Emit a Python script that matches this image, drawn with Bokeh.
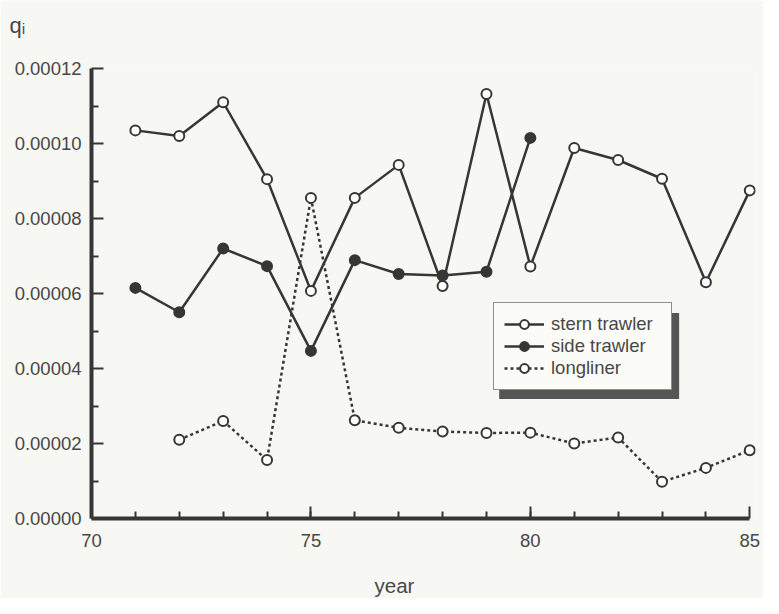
from bokeh.plotting import figure
from bokeh.models import (Range1d, FixedTicker, PrintfTickFormatter, Legend, LegendItem,
                          BoxAnnotation, Title)
from bokeh.embed import file_html
from bokeh.resources import INLINE

# ---- data ----
stern_years = [71, 72, 73, 74, 75, 76, 77, 78, 79, 80, 81, 82, 83, 84, 85]
stern_q = [1.035e-4, 1.020e-4, 1.110e-4, 0.905e-4, 0.607e-4, 0.855e-4, 0.943e-4, 0.620e-4,
           1.132e-4, 0.672e-4, 0.988e-4, 0.956e-4, 0.906e-4, 0.630e-4, 0.875e-4]

side_years = [71, 72, 73, 74, 75, 76, 77, 78, 79, 80]
side_q = [0.615e-4, 0.550e-4, 0.720e-4, 0.673e-4, 0.447e-4, 0.689e-4, 0.652e-4, 0.648e-4,
          0.658e-4, 1.015e-4]

long_years = [72, 73, 74, 75, 76, 77, 78, 79, 80, 81, 82, 83, 84, 85]
long_q = [0.210e-4, 0.260e-4, 0.156e-4, 0.855e-4, 0.262e-4, 0.242e-4, 0.232e-4, 0.228e-4,
          0.229e-4, 0.200e-4, 0.216e-4, 0.098e-4, 0.135e-4, 0.182e-4]

x_major = [70, 75, 80, 85]
x_minor = list(range(71, 85))
y_major = [0.0, 2e-5, 4e-5, 6e-5, 8e-5, 1e-4, 1.2e-4]
y_minor = [1e-5, 3e-5, 5e-5, 7e-5, 9e-5, 1.1e-4]

series_names = ["stern trawler", "side trawler", "longliner"]
y_title = "q\u1d62"
x_title = "year"

# ---- styling ----
BG = "#f7f7f3"
INK = "#363636"
TXT = "#474747"
FONT = "Liberation Sans"

p = figure(frame_width=664, frame_height=450,
           min_border_left=91, min_border_right=8, min_border_top=68, min_border_bottom=80,
           x_range=Range1d(70, 85.13), y_range=Range1d(0, 1.2e-4),
           output_backend="svg", toolbar_location=None,
           background_fill_color=BG, border_fill_color=BG)
p.outline_line_color = None
p.grid.visible = False

for ax in (p.xaxis[0], p.yaxis[0]):
    ax.axis_line_width = 4
    ax.axis_line_color = INK
    ax.major_tick_line_color = INK
    ax.minor_tick_line_color = INK
    ax.major_tick_line_width = 2
    ax.minor_tick_line_width = 2
    ax.major_tick_in = 12
    ax.major_tick_out = 0
    ax.minor_tick_in = 7
    ax.minor_tick_out = 0
    ax.major_label_text_font = FONT
    ax.major_label_text_font_size = "18.5px"
    ax.major_label_text_color = TXT

p.xaxis.ticker = FixedTicker(ticks=x_major, minor_ticks=x_minor)
p.xaxis.bounds = (70, 85)
p.xaxis.major_label_standoff = 15
p.yaxis.ticker = FixedTicker(ticks=y_major, minor_ticks=y_minor)
p.yaxis.formatter = PrintfTickFormatter(format="%.5f")
p.yaxis.major_label_standoff = 10

# ---- axis titles: left-aligned plot titles, shifted into place with offset/padding ----
p.add_layout(Title(text=x_title, align="left", offset=283, standoff=0, text_font=FONT,
                   text_font_size="20.5px", text_font_style="normal", text_color=TXT,
                   padding=dict(left=0, right=0, top=22, bottom=0)), "below")
p.add_layout(Title(text=y_title, align="left", offset=-82, standoff=0, text_font=FONT,
                   text_font_size="22px", text_font_style="normal", text_color=TXT,
                   padding=dict(left=0, right=0, top=0, bottom=31)), "above")

# ---- series ----
r_stern_l = p.line(stern_years, stern_q, line_color=INK, line_width=2.5)
r_side_l = p.line(side_years, side_q, line_color=INK, line_width=2.5)
r_long_l = p.line(long_years, long_q, line_color=INK, line_width=2.5, line_dash="3 3")

r_long_m = p.scatter(long_years, long_q, size=10, marker="circle",
                     fill_color="white", line_color=INK, line_width=2)
r_stern_m = p.scatter(stern_years, stern_q, size=10, marker="circle",
                      fill_color="white", line_color=INK, line_width=2)
r_side_m = p.scatter(side_years, side_q, size=10, marker="circle",
                     fill_color=INK, line_color=INK, line_width=2)

# ---- legend with drop shadow ----
shadow = BoxAnnotation(left=79.29, right=83.39, top=5.48e-5, bottom=3.19e-5,
                       fill_color="#555555", fill_alpha=1.0, line_color=None, level="overlay")
p.add_layout(shadow)

legend = Legend(items=[
    LegendItem(label=series_names[0], renderers=[r_stern_l, r_stern_m]),
    LegendItem(label=series_names[1], renderers=[r_side_l, r_side_m]),
    LegendItem(label=series_names[2], renderers=[r_long_l, r_long_m]),
], location=(402, 128))
legend.label_text_font = FONT
legend.label_text_font_size = "18.5px"
legend.label_text_color = TXT
legend.label_height = 22
legend.glyph_height = 22
legend.glyph_width = 40
legend.label_standoff = 7
legend.label_width = 110
legend.padding = 10
legend.spacing = 0
legend.margin = 0
legend.border_line_color = "#222222"
legend.border_line_width = 1.5
legend.background_fill_color = "#fbfbf8"
legend.background_fill_alpha = 1.0
legend.level = "overlay"
p.add_layout(legend)

open("out.html", "w").write(file_html(p, INLINE))
